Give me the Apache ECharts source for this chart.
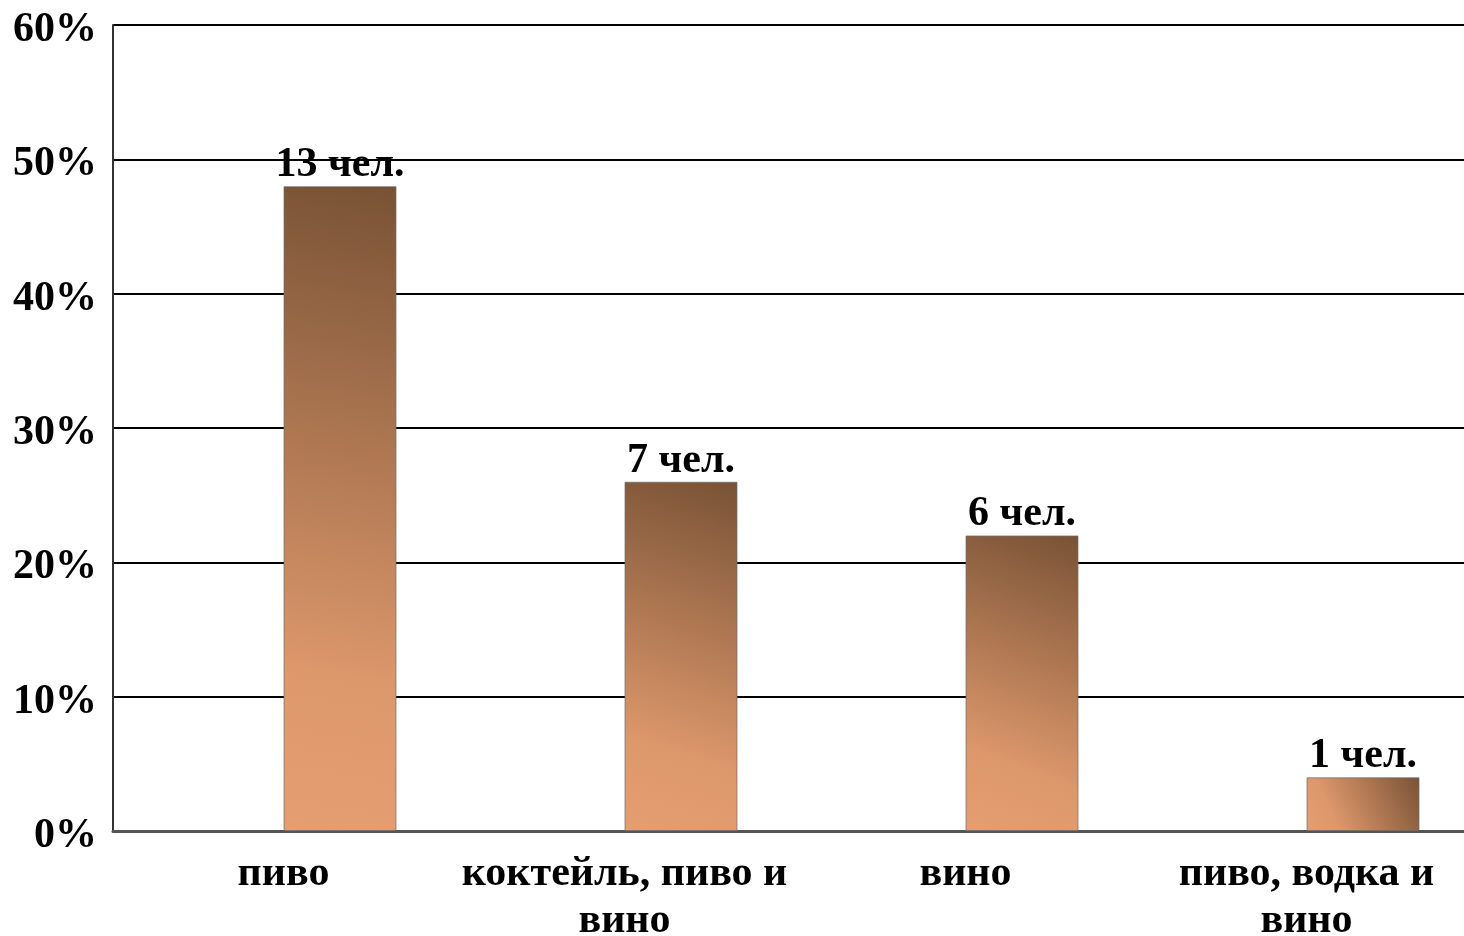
<!DOCTYPE html>
<html>
<head>
<meta charset="utf-8">
<script src="https://cdn.jsdelivr.net/npm/echarts@6/dist/echarts.min.js"></script>
<style>
html,body{margin:0;padding:0;background:#fff;}
#c{width:1464px;height:936px;}
</style>
</head>
<body>
<div id="c"></div>
<script>
const categories = ['пиво', 'коктейль, пиво и\nвино', 'вино', 'пиво, водка и\nвино'];
const percentValues = [48, 26, 22, 4];
const peopleCounts = [13, 7, 6, 1];
const yTicks = [0, 10, 20, 30, 40, 50, 60];

const chart = echarts.init(document.getElementById('c'));
const font = '"Liberation Serif", "Times New Roman", serif';
const barGrad = new echarts.graphic.LinearGradient(0, 1, 1, 0, [
  {offset: 0, color: '#e59e72'},
  {offset: 0.25, color: '#dc976b'},
  {offset: 1, color: '#785235'}
]);
chart.setOption({
  animation: false,
  backgroundColor: '#fff',
  grid: {left: 113, top: 25, bottom: 105, width: 1364, containLabel: false, outerBoundsMode: 'none'},
  xAxis: {
    type: 'category',
    data: categories,
    axisTick: {show: false},
    axisLine: {lineStyle: {color: '#555', width: 3}},
    axisLabel: {
      interval: 0, margin: 20, color: '#000',
      fontFamily: font, fontWeight: 'bold', fontSize: 42, lineHeight: 47
    }
  },
  yAxis: {
    type: 'value', min: yTicks[0], max: yTicks[yTicks.length - 1], interval: 10,
    axisLine: {show: true, lineStyle: {color: '#333', width: 2}},
    axisTick: {show: false},
    splitLine: {lineStyle: {color: '#000', width: 2}},
    axisLabel: {
      margin: 16, color: '#000', fontFamily: font, fontWeight: 'bold', fontSize: 42,
      formatter: v => '{p|' + v + '%}',
      rich: {p: {fontFamily: font, fontWeight: 'bold', fontSize: 42, color: '#000', padding: [10, 0, 0, 0]}}
    }
  },
  series: [
    {type: 'bar', data: categories.map(() => null), barWidth: 113, barGap: '0%', silent: true},
    {
      type: 'bar', barWidth: 113, barGap: '0%',
      data: percentValues,
      itemStyle: {color: barGrad, borderColor: 'rgba(110,110,110,0.7)', borderWidth: 1},
      label: {
        show: true, position: 'top', distance: 0, color: '#000',
        fontFamily: font, fontWeight: 'bold', fontSize: 42,
        formatter: p => peopleCounts[p.dataIndex] + ' чел.'
      }
    }
  ]
});
</script>
</body>
</html>
